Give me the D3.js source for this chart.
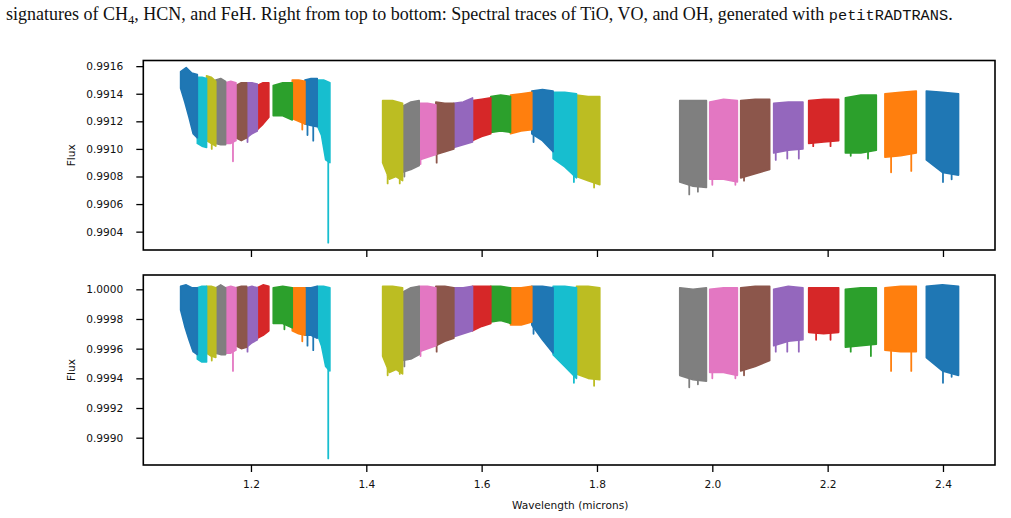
<!DOCTYPE html>
<html>
<head>
<meta charset="utf-8">
<script src="https://cdn.jsdelivr.net/npm/d3@7"></script>
<style>
  body { margin: 0; background: #fff; }
  svg text { font-family: "DejaVu Sans", sans-serif; }
</style>
</head>
<body>
<div id="chart"></div>
<script>
// wavelength bounds (microns) of each spectral order, left to right
const segStart = [1.078, 1.107, 1.123, 1.139, 1.156, 1.174, 1.1925, 1.211, 1.2386, 1.2716, 1.2936, 1.3149,
  1.4283, 1.4629, 1.4917, 1.5206, 1.5518, 1.5842, 1.6159, 1.6501, 1.687, 1.7239, 1.7645,
  1.9435, 1.9955, 2.0492, 2.1064, 2.1671, 2.2307, 2.2993, 2.3711];
const segEnd = [1.107, 1.123, 1.139, 1.156, 1.174, 1.1925, 1.211, 1.231, 1.2716, 1.2936, 1.3149, 1.3369,
  1.4629, 1.4917, 1.5206, 1.5518, 1.5842, 1.6159, 1.6501, 1.687, 1.7239, 1.7645, 1.8049,
  1.9898, 2.0435, 2.0995, 2.1572, 2.2191, 2.2844, 2.3537, 2.427];

// top panel: upper / lower envelope of each trace (evenly spaced across the order)
const topUpper = [
  [0.99156, 0.99159, 0.99155, 0.99154], [0.99152, 0.99152, 0.99151], [0.99153, 0.99152, 0.99149],
  [0.99150, 0.99151, 0.99149], [0.99148, 0.99149, 0.99148], [0.99146, 0.99148, 0.99148],
  [0.99148, 0.99148, 0.99147], [0.99146, 0.99148, 0.99148], [0.99146, 0.99148, 0.99148],
  [0.99150, 0.99150, 0.99149], [0.99150, 0.99151, 0.99151], [0.99150, 0.99150, 0.99148],
  [0.99135, 0.99135, 0.99133], [0.99131, 0.99134, 0.99135], [0.99133, 0.99133, 0.99132],
  [0.99134, 0.99133, 0.99133], [0.99133, 0.99134, 0.99137], [0.99135, 0.99136, 0.99137],
  [0.99138, 0.99139, 0.99138], [0.99139, 0.99140, 0.99141], [0.99142, 0.99143, 0.99142],
  [0.99141, 0.99141, 0.99140], [0.99139, 0.99138, 0.99138],
  [0.99135, 0.99135, 0.99135], [0.99134, 0.99136, 0.99135], [0.99135, 0.99136, 0.99136],
  [0.99133, 0.99134, 0.99134], [0.99135, 0.99136, 0.99136], [0.99137, 0.99139, 0.99139],
  [0.99140, 0.99141, 0.99142], [0.99142, 0.99141, 0.99140]
];
const topLower = [
  [0.99144, 0.99134, 0.99123, 0.99111, 0.99108], [0.99104, 0.99102, 0.99101], [0.99106, 0.99104, 0.99102],
  [0.99104, 0.99103, 0.99103], [0.99104, 0.99104, 0.99106], [0.99108, 0.99106, 0.99108],
  [0.99108, 0.99111, 0.99113], [0.99114, 0.99118, 0.99123], [0.99124, 0.99124, 0.99121],
  [0.99122, 0.99120, 0.99118], [0.99118, 0.99117, 0.99116], [0.99117, 0.99110, 0.99092, 0.99090],
  [0.99090, 0.99078, 0.99080, 0.99077], [0.99083, 0.99085, 0.99088], [0.99092, 0.99094, 0.99096],
  [0.99096, 0.99098, 0.99100], [0.99101, 0.99103, 0.99105], [0.99106, 0.99109, 0.99111],
  [0.99112, 0.99113, 0.99112], [0.99111, 0.99113, 0.99114], [0.99111, 0.99106, 0.99098],
  [0.99093, 0.99087, 0.99079], [0.99080, 0.99077, 0.99074],
  [0.99076, 0.99073, 0.99072], [0.99078, 0.99078, 0.99076], [0.99079, 0.99082, 0.99085],
  [0.99097, 0.99099, 0.99100], [0.99104, 0.99105, 0.99106], [0.99097, 0.99097, 0.99099],
  [0.99094, 0.99095, 0.99097], [0.99092, 0.99083, 0.99081]
];
// deepest absorption lines [wavelength, flux]
const topDrips = [
  [1.132, 0.99100], [1.1688, 0.99091], [1.194, 0.99105], [1.289, 0.99114], [1.298, 0.99110],
  [1.308, 0.99106], [1.334, 0.99032], [1.437, 0.99075], [1.458, 0.99075], [1.466, 0.99080],
  [1.494, 0.99089], [1.522, 0.99090], [1.690, 0.99105], [1.760, 0.99076], [1.795, 0.99072],
  [1.960, 0.99067], [1.975, 0.99069], [2.000, 0.99074], [2.040, 0.99074], [2.055, 0.99077],
  [2.110, 0.99092], [2.130, 0.99093], [2.150, 0.99093], [2.175, 0.99102], [2.205, 0.99102],
  [2.240, 0.99095], [2.270, 0.99093], [2.310, 0.99083], [2.345, 0.99084], [2.400, 0.99076],
  [2.415, 0.99078]
];

// bottom panel (each order normalised)
const botUpper = [
  [1.00002, 1.00003, 1.00001, 1.00001], [1.00001, 1.00002, 1.00002], [1.00002, 1.00002, 1.00001],
  [1.00001, 1.00003, 1.00001], [1.00001, 1.00002, 1.00001], [1.00001, 1.00002, 1.00002],
  [1.00001, 1.00002, 1.00001], [1.00001, 1.00003, 1.00002], [1.00001, 1.00002, 1.00001],
  [1.00001, 1.00001, 1.00001], [1.00001, 1.00001, 1.00002], [1.00002, 1.00002, 1.00001],
  [1.00002, 1.00002, 1.00001], [0.99998, 1.00001, 1.00002], [1.00002, 1.00002, 1.00001],
  [1.00002, 1.00002, 1.00001], [1.00001, 1.00001, 1.00002], [1.00002, 1.00002, 1.00002],
  [1.00002, 1.00002, 1.00001], [1.00001, 1.00001, 1.00002], [1.00002, 1.00002, 1.00001],
  [1.00002, 1.00002, 1.00001], [1.00002, 1.00002, 1.00001],
  [1.00001, 1.00000, 1.00001], [1.00000, 1.00001, 1.00001], [1.00001, 1.00002, 1.00002],
  [1.00000, 1.00002, 1.00001], [1.00001, 1.00001, 1.00001], [1.00000, 1.00001, 1.00001],
  [1.00001, 1.00002, 1.00002], [1.00002, 1.00003, 1.00002]
];
const botLower = [
  [0.99986, 0.99975, 0.99966, 0.99958, 0.99956], [0.99953, 0.99951, 0.99951], [0.99957, 0.99955, 0.99954],
  [0.99957, 0.99956, 0.99956], [0.99957, 0.99957, 0.99959], [0.99962, 0.99960, 0.99961],
  [0.99961, 0.99964, 0.99966], [0.99967, 0.99969, 0.99972], [0.99977, 0.99977, 0.99974],
  [0.99972, 0.99970, 0.99969], [0.99969, 0.99969, 0.99967], [0.99970, 0.99962, 0.99948, 0.99945],
  [0.99955, 0.99944, 0.99946, 0.99943], [0.99952, 0.99953, 0.99956], [0.99958, 0.99960, 0.99962],
  [0.99962, 0.99965, 0.99967], [0.99968, 0.99970, 0.99972], [0.99972, 0.99975, 0.99977],
  [0.99978, 0.99979, 0.99977], [0.99976, 0.99976, 0.99978], [0.99976, 0.99966, 0.99957],
  [0.99956, 0.99948, 0.99940], [0.99943, 0.99940, 0.99939],
  [0.99942, 0.99939, 0.99938], [0.99944, 0.99944, 0.99942], [0.99945, 0.99948, 0.99952],
  [0.99962, 0.99965, 0.99966], [0.99971, 0.99970, 0.99971], [0.99961, 0.99962, 0.99963],
  [0.99959, 0.99958, 0.99958], [0.99954, 0.99945, 0.99942]
];
const botDrips = [
  [1.132, 0.99952], [1.1688, 0.99945], [1.194, 0.99958], [1.258, 0.99973], [1.289, 0.99965],
  [1.298, 0.99962], [1.308, 0.99959], [1.334, 0.99886], [1.437, 0.99942], [1.458, 0.99943],
  [1.466, 0.99948], [1.494, 0.99955], [1.522, 0.99958], [1.690, 0.99970], [1.760, 0.99937],
  [1.795, 0.99935], [1.960, 0.99934], [1.975, 0.99936], [2.000, 0.99940], [2.040, 0.99940],
  [2.055, 0.99942], [2.110, 0.99958], [2.130, 0.99958], [2.150, 0.99958], [2.180, 0.99966],
  [2.205, 0.99966], [2.240, 0.99958], [2.275, 0.99955], [2.310, 0.99945], [2.345, 0.99945],
  [2.400, 0.99937], [2.415, 0.99941]
];

const xTicks = [1.2, 1.4, 1.6, 1.8, 2.0, 2.2, 2.4];
const topTicks = [0.9904, 0.9906, 0.9908, 0.9910, 0.9912, 0.9914, 0.9916];
const botTicks = [0.9990, 0.9992, 0.9994, 0.9996, 0.9998, 1.0000];

const width = 1011, height = 518;
const left = 143.3, right = 995;

const svg = d3.select('#chart').append('svg')
    .attr('width', width)
    .attr('height', height);

// caption fragment above the figure
const cap = svg.append('text')
    .attr('x', 6).attr('y', 19.5)
    .style('font-family', '"Liberation Serif", serif')
    .style('font-size', '18px')
    .attr('fill', '#111');
cap.append('tspan').text('signatures of CH');
cap.append('tspan').attr('dy', 4).style('font-size', '12.5px').text('4');
cap.append('tspan').attr('dy', -4).text(', HCN, and FeH. Right from top to bottom: Spectral traces of TiO, VO, and OH, generated with ');
cap.append('tspan').style('font-family', '"Liberation Mono", monospace').style('font-size', '15.3px').text('petitRADTRANS');
cap.append('tspan').text('.');

const x = d3.scaleLinear().domain([1.0133, 2.4902]).range([left, right]);

const colorOf = i => d3.schemeCategory10[(segStart.length - 1 - i) % 10];

function drawPanel(top, bottom, domain, upper, lower, drips, ticks, showLabels) {
    const y = d3.scaleLinear().domain(domain).range([bottom, top]);
    const g = svg.append('g');

    const clipId = 'clip' + Math.round(top);
    g.append('clipPath').attr('id', clipId)
        .append('rect').attr('x', left).attr('y', top).attr('width', right - left).attr('height', bottom - top);

    const plot = g.append('g').attr('clip-path', `url(#${clipId})`);
    const line = d3.line().x(d => x(d[0])).y(d => y(d[1]));

    const lowerScale = i => d3.scaleLinear()
        .domain(lower[i].map((_, k) => segStart[i] + (segEnd[i] - segStart[i]) * k / (lower[i].length - 1)))
        .range(lower[i]);

    // draw right to left, like the original plotting order
    for (let i = segStart.length - 1; i >= 0; i--) {
        const s = segStart[i], e = segEnd[i];
        const up = upper[i].map((v, k) => [s + (e - s) * k / (upper[i].length - 1), v]);
        const lo = lower[i].map((v, k) => [s + (e - s) * k / (lower[i].length - 1), v]).reverse();
        const c = colorOf(i);
        plot.append('path')
            .attr('d', line(up.concat(lo)) + 'Z')
            .attr('fill', c)
            .attr('stroke', c)
            .attr('stroke-width', 1.6)
            .attr('stroke-linejoin', 'round');

        drips.filter(d => d[0] >= s && d[0] <= e).forEach(d => {
            plot.append('line')
                .attr('x1', x(d[0])).attr('x2', x(d[0]))
                .attr('y1', y(lowerScale(i)(d[0])))
                .attr('y2', y(d[1]))
                .attr('stroke', c)
                .attr('stroke-width', 1.8)
                .attr('stroke-linecap', 'round');
        });
    }

    // axes
    const yAxis = g.append('g')
        .attr('transform', `translate(${left},0)`)
        .call(d3.axisLeft(y).tickValues(ticks).tickFormat(d3.format('.4f')).tickSize(7).tickPadding(13).tickSizeOuter(0));
    const xAxis = g.append('g')
        .attr('transform', `translate(0,${bottom})`)
        .call(d3.axisBottom(x).tickValues(xTicks).tickFormat(showLabels ? d3.format('.1f') : '').tickSize(7).tickPadding(8).tickSizeOuter(0));
    [yAxis, xAxis].forEach(a => {
        a.select('.domain').remove();
        a.selectAll('.tick line').attr('stroke', '#000').attr('stroke-width', 1.3);
        a.selectAll('.tick text').attr('fill', '#111').style('font-size', '10.6px').style('font-family', '"DejaVu Sans", sans-serif');
    });

    g.append('rect')
        .attr('x', left).attr('y', top)
        .attr('width', right - left).attr('height', bottom - top)
        .attr('fill', 'none').attr('stroke', '#000').attr('stroke-width', 1.6);

    g.append('text')
        .attr('transform', `translate(75,${(top + bottom) / 2}) rotate(-90)`)
        .attr('text-anchor', 'middle')
        .style('font-size', '10.6px')
        .attr('fill', '#111')
        .text('Flux');
}

drawPanel(60.5, 250, [0.990267, 0.991641], topUpper, topLower, topDrips, topTicks, false);
drawPanel(275, 465, [0.998816, 1.0000964], botUpper, botLower, botDrips, botTicks, true);

svg.append('text')
    .attr('x', (left + right) / 2 + 1).attr('y', 509)
    .attr('text-anchor', 'middle')
    .style('font-size', '10.6px')
    .attr('fill', '#111')
    .text('Wavelength (microns)');
</script>
</body>
</html>
